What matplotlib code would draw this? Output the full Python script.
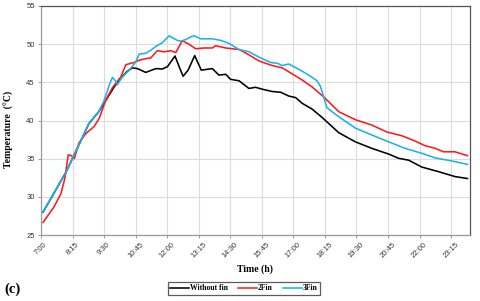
import matplotlib
matplotlib.use("Agg")
import matplotlib.pyplot as plt
from matplotlib.lines import Line2D

# time in hours (decimal) and temperatures (°C)
t_black = [7.08, 7.5, 8.0, 8.5, 8.9, 9.3, 9.6, 9.9, 10.1, 10.4, 10.62, 10.82, 11.15, 11.55, 11.81,
           12.01, 12.31, 12.48, 12.63, 12.83, 13.09, 13.35, 13.79, 14.05, 14.32, 14.51, 14.85,
           15.24, 15.5, 15.77, 16.16, 16.5, 16.82, 17.09, 17.35, 17.74, 18.14, 18.47, 18.8,
           19.46, 20.11, 20.78, 21.17, 21.57, 22.09, 22.75, 23.41, 23.9]
v_black = [28.0, 30.4, 33.3, 36.8, 39.6, 41.2, 42.8, 44.4, 45.3, 46.4, 46.9, 46.8, 46.3, 46.8, 46.75,
           47.05, 48.45, 47.0, 45.8, 46.6, 48.5, 46.6, 46.8, 45.95, 46.05, 45.4, 45.2,
           44.2, 44.35, 44.1, 43.8, 43.7, 43.2, 43.0, 42.25, 41.5, 40.4, 39.4, 38.4,
           37.2, 36.35, 35.6, 35.05, 34.8, 33.9, 33.3, 32.65, 32.4]

t_red = [7.08, 7.5, 7.79, 7.95, 8.08, 8.2, 8.32, 8.51, 8.78, 9.1, 9.31, 9.57, 9.83, 10.16, 10.36,
         10.56, 10.69, 10.89, 11.15, 11.35, 11.61, 11.88, 12.14, 12.34, 12.6, 12.86, 13.13, 13.46,
         13.79, 13.92, 14.32, 14.85, 15.24, 15.64, 16.16, 16.56, 16.96, 17.35, 17.74, 18.2, 18.8,
         19.46, 20.11, 20.7, 21.3, 21.83, 22.22, 22.62, 22.95, 23.4, 23.9]
v_red = [26.65, 28.6, 30.4, 32.5, 35.5, 35.4, 35.0, 37.1, 38.3, 39.2, 40.3, 42.7, 44.3, 45.7, 47.3,
         47.5, 47.6, 47.9, 48.1, 48.2, 49.15, 49.0, 49.15, 48.9, 50.45, 50.0, 49.4, 49.5,
         49.5, 49.8, 49.5, 49.3, 48.6, 47.8, 47.2, 46.9, 46.1, 45.3, 44.4, 43.1, 41.15,
         40.1, 39.4, 38.5, 38.0, 37.3, 36.7, 36.35, 35.9, 35.9, 35.4]

t_blue = [7.08, 7.5, 8.0, 8.5, 8.9, 9.3, 9.5, 9.7, 9.83, 9.95, 10.03, 10.2, 10.43, 10.6, 10.76,
          10.89, 11.15, 11.35, 11.55, 11.81, 12.08, 12.2, 12.4, 12.54, 12.73, 12.9, 13.06, 13.2,
          13.33, 13.79, 14.12, 14.45, 14.85, 15.24, 15.64, 16.1, 16.36, 16.56, 16.82, 17.22,
          17.61, 17.94, 18.07, 18.2, 18.33, 18.67, 18.93, 19.46, 20.11, 20.78, 21.43, 22.09,
          22.62, 23.28, 23.9]
v_blue = [28.0, 30.4, 33.3, 36.8, 39.6, 41.2, 42.6, 44.6, 45.65, 45.2, 44.7, 45.6, 46.4, 47.0, 47.7,
          48.7, 48.8, 49.2, 49.7, 50.2, 51.1, 50.85, 50.5, 50.4, 50.6, 50.9, 51.1, 50.9,
          50.7, 50.7, 50.5, 50.1, 49.3, 49.0, 48.3, 47.6, 47.5, 47.2, 47.4, 46.7,
          45.95, 45.2, 44.5, 43.1, 41.7, 40.8, 40.2, 39.0, 38.1, 37.2, 36.35, 35.7,
          35.1, 34.7, 34.25]

tick_hours = [7.0, 8.25, 9.5, 10.75, 12.0, 13.25, 14.5, 15.75, 17.0, 18.25, 19.5, 20.75, 22.0, 23.25]
tick_labels = ["7:00", "8:15", "9:30", "10:45", "12:00", "13:15", "14:30", "15:45",
               "17:00", "18:15", "19:30", "20:45", "22:00", "23:15"]
series_names = ["Without fin", "2Fin", "3Fin"]
colors = ["#000000", "#ff1a1a", "#1cb2ec"]

W, H = 480, 301
fig = plt.figure(figsize=(W / 100, H / 100), dpi=100)
ax = fig.add_axes([41 / W, 1 - 235 / H, (470 - 41) / W, (235 - 6) / H])

for tt, vv, c in zip([t_black, t_red, t_blue], [v_black, v_red, v_blue], colors):
    ax.plot(tt, vv, color=c, lw=1.15, solid_joinstyle="round", zorder=3)

ax.set_xlim(7.0, 24.0)
ax.set_ylim(25, 55)
ax.set_yticks(range(25, 56, 5))
ax.set_xticks(tick_hours)
ax.set_xticklabels(tick_labels, rotation=45, ha="center", fontsize=5.5,
                   family="Liberation Sans", color="#333333")
for lab in ax.get_yticklabels():
    lab.set_fontsize(5.5)
    lab.set_family("Liberation Sans")
    lab.set_color("#333333")
ax.grid(True, color="#dcdcdc", lw=0.8, zorder=0)
ax.tick_params(axis="both", length=2.5, width=0.6, color="#888888", pad=2)
for s in ax.spines.values():
    s.set_color("#555555")
    s.set_linewidth(0.9)
ax.spines["left"].set_color("#999999")
ax.spines["bottom"].set_color("#999999")

serif = "Liberation Serif"
fig.text(255 / W, 1 - 269 / H, "Time (h)", ha="center", va="center",
         family=serif, weight="bold", fontsize=7)
fig.text(9 / W, 1 - 129 / H, "Temperature  (°C)", ha="center", va="center", rotation=90,
         family=serif, weight="bold", fontsize=7)
fig.text(4 / W, 1 - 289 / H, "(c)", ha="left", va="center",
         family=serif, weight="bold", fontsize=10.5)

handles = [Line2D([], [], color=c, lw=1.15) for c in colors]
leg = fig.legend(handles, series_names, loc="center", bbox_to_anchor=(244 / W, 1 - 288.5 / H),
                 ncol=3, frameon=True, fancybox=False, handlelength=2.4, handletextpad=0.15,
                 columnspacing=1.4, borderpad=0.35,
                 prop={"family": serif, "weight": "bold", "size": 5.5})
leg.get_frame().set_edgecolor("#333333")
leg.get_frame().set_linewidth(0.9)

fig.savefig("out.png", dpi=100)
